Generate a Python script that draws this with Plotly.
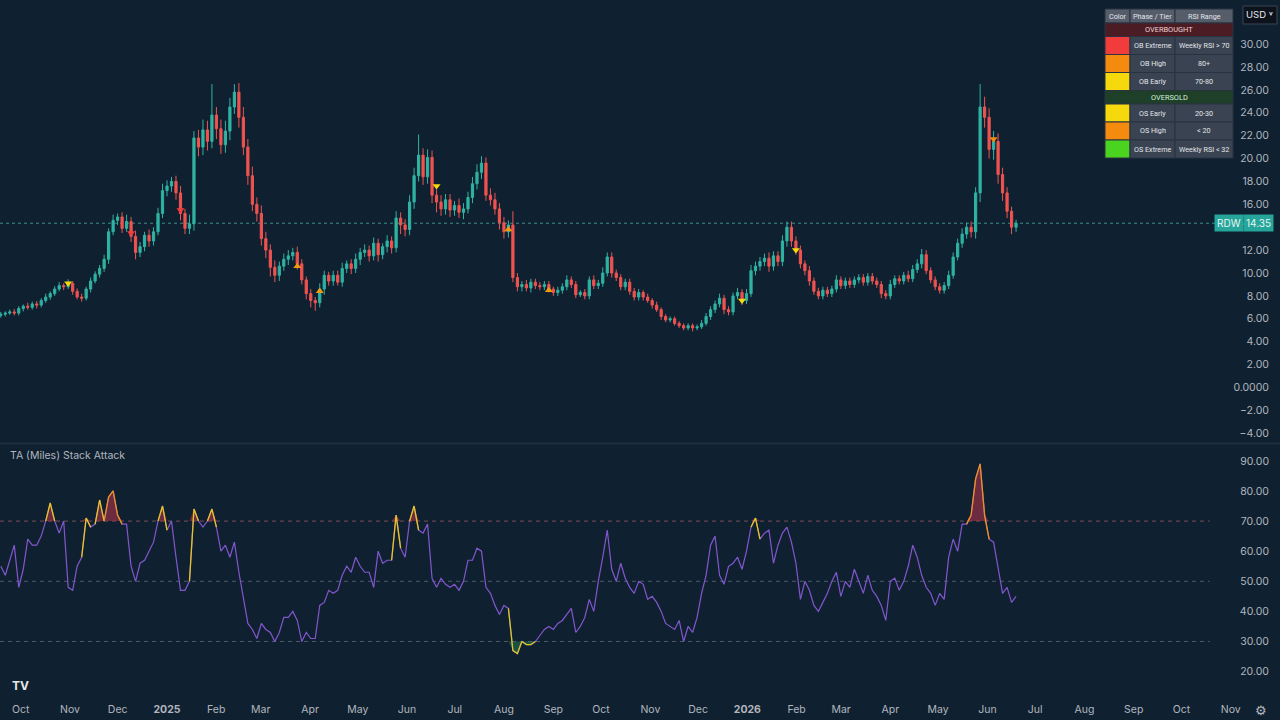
import numpy as np
import pandas as pd
import plotly.graph_objects as go
from plotly.subplots import make_subplots

# ---------------- data ----------------
start_date = "2024-09-18 12:00"
end_date = "2026-06-19"
first_open = 6.3

close = [
    6.4, 6.5, 6.6, 6.5, 6.9, 7.1, 7.0, 7.3, 7.2, 7.6,
    7.9, 8.2, 8.6, 8.9, 8.8, 9.1, 8.4, 7.9, 7.8, 8.6,
    9.3, 9.9, 10.4, 11.2, 13.6, 14.6, 14.9, 13.9, 14.5, 13.2,
    11.8, 12.3, 13.3, 12.8, 13.6, 15.2, 17.2, 17.6, 18.0, 17.0,
    15.2, 13.9, 14.3, 21.8, 21.0, 22.5, 21.5, 23.8, 22.6, 21.2,
    22.4, 24.5, 25.8, 23.6, 21.0, 18.5, 16.0, 15.2, 13.0, 12.0,
    10.5, 9.8, 10.6, 11.2, 11.5, 11.8, 10.8, 9.4, 8.2, 7.6,
    7.4, 8.6, 9.8, 9.3, 9.8, 9.2, 10.4, 10.8, 10.4, 11.2,
    11.8, 12.0, 11.5, 12.6, 11.6, 12.3, 12.8, 12.2, 14.8, 14.2,
    13.8, 16.2, 18.5, 20.3, 18.4, 20.1, 16.8, 16.2, 15.6, 16.4,
    15.5, 15.9, 15.3, 15.6, 16.6, 17.8, 18.8, 19.6, 16.8, 16.4,
    15.6, 14.4, 13.6, 14.2, 9.6, 8.8, 9.0, 8.7, 9.2, 8.9,
    8.8, 9.0, 8.6, 8.3, 8.5, 8.8, 9.4, 9.0, 8.1, 8.3,
    8.0, 9.4, 8.9, 9.1, 10.0, 11.4, 10.0, 9.6, 8.8, 9.2,
    8.4, 7.9, 8.3, 7.9, 7.6, 7.2, 6.8, 6.2, 5.9, 6.0,
    5.6, 5.4, 5.2, 5.4, 5.2, 5.3, 5.6, 6.2, 6.8, 7.3,
    7.8, 6.8, 6.6, 8.0, 8.3, 7.6, 8.2, 10.2, 10.6, 11.0,
    11.3, 10.6, 11.5, 11.0, 12.8, 14.0, 12.8, 12.0, 10.8, 10.2,
    9.3, 8.4, 8.0, 8.5, 8.2, 8.6, 9.4, 8.9, 9.3, 9.0,
    9.4, 9.6, 9.2, 9.7, 9.3, 9.0, 8.2, 8.0, 9.0, 9.5,
    9.3, 9.8, 9.5, 10.3, 10.8, 11.6, 10.2, 9.4, 8.8, 8.5,
    8.9, 9.8, 11.4, 12.6, 13.4, 14.0, 13.6, 17.0, 24.5, 23.6,
    20.8, 21.5, 18.6, 17.0, 15.4, 14.0, 14.35,
]

wick_up = [
    .2, .15, .2, .25, .2, .15, .3, .2, .25, .2,
    .3, .2, .25, .3, .2, .35, .2, .25, .3, .2,
    .3, .25, .3, .4, .3, .5, .3, .4, .6, .4,
    .5, .4, .3, .5, .4, .5, .6, .5, .4, .5,
    .6, .4, .8, .6, .7, .9, .8, 2.7, .7, .8,
    .9, .8, .7, .8, .9, .7, .8, .6, .7, .6,
    .5, .6, .4, .5, .5, .4, .5, .4, .3, .4,
    .3, .5, .4, .3, .4, .4, .5, .3, .4, .5,
    .4, .5, .4, .5, .4, .3, .5, .4, .6, .5,
    .5, .6, .7, 1.8, .6, .7, .6, .5, .6, .5,
    .5, .4, .6, .5, .5, .6, .7, .6, .5, .6,
    .6, .5, .5, .4, 1.2, .4, .3, .4, .3, .3,
    .3, .3, .3, .2, .3, .3, .4, .3, .3, .2,
    .3, .3, .4, .3, .5, .4, .4, .3, .3, .3,
    .3, .3, .3, .2, .3, .2, .3, .2, .2, .2,
    .2, .2, .2, .2, .2, .2, .3, .3, .3, .3,
    .4, .3, .3, .3, .4, .3, .4, .5, .4, .4,
    .4, .5, .4, .4, .5, .5, .5, .4, .4, .3,
    .4, .3, .3, .3, .3, .3, .4, .3, .3, .3,
    .3, .3, .3, .3, .3, .3, .3, .3, .4, .3,
    .3, .3, .4, .4, .4, .5, .4, .3, .3, .3,
    .3, .4, .4, .4, .5, .4, .5, .5, 2.0, .9,
    .8, .9, .7, .6, .5, .4, .3,
]

wick_dn = [
    .2, .2, .15, .2, .2, .25, .2, .2, .3, .2,
    .2, .25, .2, .2, .3, .2, .3, .2, .3, .2,
    .3, .2, .3, .3, .4, .3, .4, .4, .3, .5,
    .6, .4, .4, .5, .4, .3, .4, .5, .5, .6,
    .6, .5, .5, .6, .8, .7, .8, .6, .9, .8,
    .7, .8, .6, .9, .7, .8, .6, .7, .6, .7,
    .8, .6, .5, .4, .5, .4, .5, .4, .5, .6,
    .7, .4, .5, .4, .4, .3, .4, .4, .5, .4,
    .5, .4, .5, .4, .6, .4, .5, .5, .4, .8,
    .6, .5, .6, .5, .7, .6, .7, .9, .6, .5,
    .6, .5, .5, .6, .4, .5, .5, .6, .5, .5,
    .5, .6, .6, .5, .4, .4, .4, .3, .4, .3,
    .3, .3, .3, .3, .3, .3, .3, .3, .3, .2,
    .3, .3, .3, .3, .3, .3, .4, .3, .3, .3,
    .3, .3, .3, .3, .2, .3, .2, .3, .2, .2,
    .2, .2, .2, .2, .3, .2, .2, .2, .3, .3,
    .3, .4, .3, .3, .3, .4, .3, .3, .4, .4,
    .4, .5, .4, .4, .4, .5, .5, .4, .4, .4,
    .4, .3, .3, .3, .3, .3, .3, .3, .3, .3,
    .3, .3, .3, .3, .3, .3, .4, .3, .3, .3,
    .3, .3, .3, .3, .3, .4, .3, .3, .3, .3,
    .3, .3, .3, .3, .4, .4, .5, .6, .8, .9,
    .8, .9, .8, .7, .6, .6, .4,
]

rsi = [
    55, 52, 57, 62, 48, 54, 64, 62, 62, 65,
    70, 76, 70, 66, 70, 48, 47, 55, 58, 71,
    68, 69, 77, 70, 78, 80, 72, 69, 69, 55,
    50, 56, 57, 60, 63, 70, 75, 67, 70, 58,
    47, 47, 50, 74, 70, 68, 70, 74, 68, 60,
    62, 58, 63, 53, 45, 36, 34, 31, 36, 34,
    33, 30, 33, 38, 38, 40, 37, 30, 33, 31,
    31, 42, 43, 47, 46, 47, 52, 55, 53, 58,
    55, 53, 53, 48, 60, 56, 57, 57, 72, 61,
    58, 70, 75, 67, 66, 69, 51, 48, 51, 49,
    48, 49, 47, 50, 57, 57, 61, 60, 48, 46,
    42, 39, 42, 41, 27, 26, 30, 29, 29, 30,
    32, 34, 35, 34, 36, 37, 39, 41, 33, 35,
    38, 44, 40, 50, 58, 67, 54, 50, 56, 51,
    48, 46, 50, 49, 44, 45, 43, 40, 36, 35,
    34, 37, 30, 35, 33, 38, 46, 52, 62, 65,
    52, 49, 55, 56, 58, 54, 60, 68, 71, 64,
    66, 67, 56, 62, 66, 68, 63, 56, 44, 50,
    47, 42, 40, 43, 46, 50, 53, 45, 50, 48,
    54, 50, 46, 52, 47, 45, 42, 37, 50, 51,
    47, 50, 55, 62, 58, 52, 48, 46, 42, 46,
    44, 58, 64, 60, 69, 69, 72, 84, 89, 72,
    64, 63, 54, 46, 48, 43, 45,
]

# signal markers: candle index, price level, tier
sig_idx = [15, 29, 40, 66, 71, 97, 113, 122, 165, 177, 221]
sig_price = [9.1, 13.5, 15.5, 10.6, 8.4, 17.6, 13.8, 8.5, 7.6, 12.0, 21.7]
sig_kind = ["OB Early", "OB Extreme", "OB Extreme", "OS High", "OS High", "OB Early",
            "OS High", "OS High", "OB Early", "OB Early", "OB High"]

rsi_levels = [70, 50, 30]
price_ticks = [-4, -2, 0, 2, 4, 6, 8, 10, 12, 14, 16, 18, 20, 22, 24, 26, 28, 30]
price_tick_text = ["−4.00", "−2.00", "0.0000", "2.00", "4.00", "6.00", "8.00", "10.00", "12.00",
                   "14.00", "16.00", "18.00", "20.00", "22.00", "24.00", "26.00", "28.00", "30.00"]
rsi_ticks = [20, 30, 40, 50, 60, 70, 80, 90]
rsi_tick_text = ["20.00", "30.00", "40.00", "50.00", "60.00", "70.00", "80.00", "90.00"]

month_ticks = ["2024-10-01", "2024-11-01", "2024-12-01", "2025-01-01", "2025-02-01", "2025-03-01",
               "2025-04-01", "2025-05-01", "2025-06-01", "2025-07-01", "2025-08-01", "2025-09-01",
               "2025-10-01", "2025-11-01", "2025-12-01", "2026-01-01", "2026-02-01", "2026-03-01",
               "2026-04-01", "2026-05-01", "2026-06-01", "2026-07-01", "2026-08-01", "2026-09-01",
               "2026-10-01", "2026-11-01"]
month_labels = ["Oct", "Nov", "Dec", "<b>2025</b>", "Feb", "Mar", "Apr", "May", "Jun", "Jul", "Aug",
                "Sep", "Oct", "Nov", "Dec", "<b>2026</b>", "Feb", "Mar", "Apr", "May", "Jun", "Jul",
                "Aug", "Sep", "Oct", "Nov"]

table_ob = [("OB Extreme", "Weekly RSI > 70", "#f23b3b"),
            ("OB High", "80+", "#f58b0e"),
            ("OB Early", "70-80", "#f5d90c")]
table_os = [("OS Early", "20-30", "#f5d90c"),
            ("OS High", "< 20", "#f58b0e"),
            ("OS Extreme", "Weekly RSI < 32", "#4bd41f")]

ticker = "RDW"

assert len(close) == len(wick_up) == len(wick_dn) == len(rsi)

# ---------------- derived ----------------
n = len(close)
dates = pd.date_range(start_date, end_date, periods=n)
opens = [first_open] + close[:-1]
highs = [max(o, c) + w for o, c, w in zip(opens, close, wick_up)]
lows = [min(o, c) - w for o, c, w in zip(opens, close, wick_dn)]

BG = "#0f2130"
UP = "#2fb3a3"
DN = "#ef5350"
TXT = "#b2b5be"
PURPLE = "#8356cf"
tier_color = {"OB Extreme": "#f23b3b", "OB High": "#f58b0e", "OB Early": "#f5d90c",
              "OS Early": "#f5d90c", "OS High": "#f09a12", "OS Extreme": "#4bd41f"}

fig = make_subplots(rows=2, cols=1, shared_xaxes=True, vertical_spacing=0.002)

fig.add_trace(go.Candlestick(
    x=dates, open=opens, high=highs, low=lows, close=close,
    increasing=dict(line=dict(color=UP, width=1), fillcolor=UP),
    decreasing=dict(line=dict(color=DN, width=1), fillcolor=DN),
    whiskerwidth=0, showlegend=False, hoverinfo="skip"), row=1, col=1)

# signal triangles
sx = [dates[i] for i in sig_idx]
sym = ["triangle-down" if k.startswith("OB") else "triangle-up" for k in sig_kind]
scol = [tier_color[k] for k in sig_kind]
fig.add_trace(go.Scatter(x=sx, y=sig_price, mode="markers",
                         marker=dict(symbol=sym, color=scol, size=7,
                                     line=dict(width=0)),
                         showlegend=False, hoverinfo="skip"), row=1, col=1)

# RSI pane
r = np.array(rsi, dtype=float)
ob_level, mid_level, os_level = rsi_levels
fig.add_trace(go.Scatter(x=dates, y=np.full(n, ob_level), mode="lines",
                         line=dict(width=0, color="rgba(0,0,0,0)"),
                         showlegend=False, hoverinfo="skip"), row=2, col=1)
fig.add_trace(go.Scatter(x=dates, y=np.maximum(r, ob_level), mode="lines", fill="tonexty",
                         fillcolor="rgba(170,50,72,0.6)",
                         line=dict(width=0, color="rgba(0,0,0,0)"),
                         showlegend=False, hoverinfo="skip"), row=2, col=1)
fig.add_trace(go.Scatter(x=dates, y=np.full(n, os_level), mode="lines",
                         line=dict(width=0, color="rgba(0,0,0,0)"),
                         showlegend=False, hoverinfo="skip"), row=2, col=1)
fig.add_trace(go.Scatter(x=dates, y=np.minimum(r, os_level), mode="lines", fill="tonexty",
                         fillcolor="rgba(40,140,90,0.45)",
                         line=dict(width=0, color="rgba(0,0,0,0)"),
                         showlegend=False, hoverinfo="skip"), row=2, col=1)

fig.add_trace(go.Scatter(x=dates, y=r, mode="lines", line=dict(color=PURPLE, width=1.2),
                         showlegend=False, hoverinfo="skip"), row=2, col=1)


def runs(mask):
    out, i = [], 0
    while i < len(mask):
        if mask[i]:
            j = i
            while j + 1 < len(mask) and mask[j + 1]:
                j += 1
            out.append((i, j))
            i = j + 1
        else:
            i += 1
    return out


above = r > ob_level
below = r < os_level
for m, lvl, kind in ((above, ob_level, "ob"), (below, os_level, "os")):
    for a, b in runs(m):
        lo, hi = max(a - 1, 0), min(b + 1, n - 1)
        seg = r[lo:hi + 1]
        if kind == "ob":
            col = "#f0901a" if seg.max() >= 78 else "#e8c51c"
        else:
            col = "#d6c61c"
        fig.add_trace(go.Scatter(x=dates[lo:hi + 1], y=seg, mode="lines",
                                 line=dict(color=col, width=1.3),
                                 showlegend=False, hoverinfo="skip"), row=2, col=1)

# ---------------- layout ----------------
PH = 690.0


def pxx(x):
    return x / 1280.0


def pyy(y):
    return (PH - y) / PH


shapes = []
annots = []

# pane separator
shapes.append(dict(type="line", xref="paper", yref="paper", x0=0, x1=1,
                   y0=pyy(443.5), y1=pyy(443.5), line=dict(color="#1f2e3b", width=2), layer="above"))

# RSI levels
lvl_colors = {ob_level: "#7d4d5c", mid_level: "#4d5c68", os_level: "#4d5c68"}
for lv in rsi_levels:
    shapes.append(dict(type="line", xref="x2 domain", yref="y2", x0=0, x1=0.945, y0=lv, y1=lv,
                       line=dict(color=lvl_colors[lv], width=1, dash="4px,4px"), layer="below"))

# last price line
last = close[-1]
shapes.append(dict(type="line", xref="x domain", yref="y", x0=0, x1=0.95, y0=last, y1=last,
                   line=dict(color="#3a8f86", width=1, dash="dot"), layer="below"))
annots.append(dict(x=pxx(1229), y=last, xref="paper", yref="y", text=ticker, showarrow=False,
                   font=dict(size=10, color="#e8f5f3"), bgcolor="#26a69a", borderpad=2,
                   xanchor="center", yanchor="middle"))
annots.append(dict(x=pxx(1258), y=last, xref="paper", yref="y", text=f"{last:.2f}", showarrow=False,
                   font=dict(size=10, color="#e8f5f3"), bgcolor="#26a69a", borderpad=2,
                   xanchor="center", yanchor="middle"))

# indicator title
annots.append(dict(x=pxx(8), y=pyy(455), xref="paper", yref="paper", text="TA (Miles) Stack Attack",
                   showarrow=False, font=dict(size=10.5, color=TXT), xanchor="left", yanchor="middle"))

# logo & gear
annots.append(dict(x=pxx(20), y=pyy(685), xref="paper", yref="paper", text="<b>TV</b>",
                   showarrow=False, font=dict(size=12, color="#e8e8e8"), xanchor="center", yanchor="middle"))
annots.append(dict(x=pxx(1261), y=pyy(710), xref="paper", yref="paper", text="⚙",
                   showarrow=False, font=dict(size=13, color=TXT), xanchor="center", yanchor="middle"))

# USD button
shapes.append(dict(type="rect", xref="paper", yref="paper", x0=pxx(1243), x1=pxx(1277),
                   y0=pyy(24), y1=pyy(6), fillcolor="#0c131c", line=dict(color="#3a4452", width=1),
                   layer="above"))
annots.append(dict(x=pxx(1259), y=pyy(15), xref="paper", yref="paper", text="USD ˅",
                   showarrow=False, font=dict(size=9.5, color="#e6e8ee"), xanchor="center", yanchor="middle"))

# legend table
cx = [1105, 1130, 1175, 1233]
CELL = "#3a4351"
HEAD = "#565d6a"
GRID = "#283240"
TFAM = "Roboto, sans-serif"
TF = dict(size=7.2, color="#e3e6ec", family=TFAM)


def rect(x0, x1, y0, y1, fill):
    shapes.append(dict(type="rect", xref="paper", yref="paper", x0=pxx(x0), x1=pxx(x1),
                       y0=pyy(y1), y1=pyy(y0), fillcolor=fill, line=dict(color=GRID, width=1),
                       layer="above"))


def text(x, y, t, font=TF):
    annots.append(dict(x=pxx(x), y=pyy(y), xref="paper", yref="paper", text=t, showarrow=False,
                       font=font, xanchor="center", yanchor="middle"))


# header
for (a, b), t in zip(zip(cx[:-1], cx[1:]), ["Color", "Phase / Tier", "RSI Range"]):
    rect(a, b, 9, 23, HEAD)
    text((a + b) / 2, 16, t)

y = 23
for title, rows, tbg, tcol in (("OVERBOUGHT", table_ob, "#4b1c24", "#f0d4d4"),
                               ("OVERSOLD", table_os, "#1e4028", "#d4f0d8")):
    rect(cx[0], cx[-1], y, y + 13.5, tbg)
    text((cx[0] + cx[-1]) / 2, y + 7, title, dict(size=7.4, color=tcol, family=TFAM))
    y += 13.5
    for name, rng, col in rows:
        rect(cx[0], cx[1], y, y + 18, col)
        rect(cx[1], cx[2], y, y + 18, CELL)
        rect(cx[2], cx[3], y, y + 18, CELL)
        text((cx[1] + cx[2]) / 2, y + 9, name)
        text((cx[2] + cx[3]) / 2, y + 9, rng)
        y += 18

fig.update_layout(
    width=1280, height=720,
    margin=dict(l=0, r=0, t=0, b=30),
    paper_bgcolor=BG, plot_bgcolor=BG,
    font=dict(family="Inter, Roboto, sans-serif", color=TXT, size=11),
    showlegend=False,
    shapes=shapes, annotations=annots,
    hovermode=False,
)
xr = ["2024-09-18", "2026-12-02"]
fig.update_xaxes(range=xr, showgrid=False, zeroline=False, showline=False,
                 rangeslider=dict(visible=False))
fig.update_xaxes(tickvals=month_ticks, ticktext=month_labels, ticks="outside", ticklen=9,
                 tickcolor="rgba(0,0,0,0)", tickfont=dict(size=10.5, color=TXT), row=2, col=1)
fig.update_layout(
    yaxis=dict(domain=[(PH - 443) / PH, 1], range=[-4.85, 33.85], side="right",
               tickvals=price_ticks, ticktext=price_tick_text, ticklabelposition="inside",
               ticklabelstandoff=8, showgrid=False, zeroline=False, showline=False,
               tickfont=dict(size=10.5, color=TXT)),
    yaxis2=dict(domain=[0, (PH - 444) / PH], range=[13.9, 95.6], side="right",
                tickvals=rsi_ticks, ticktext=rsi_tick_text, ticklabelposition="inside",
                ticklabelstandoff=8, showgrid=False, zeroline=False, showline=False,
                tickfont=dict(size=10.5, color=TXT)),
)

fig.write_html("out.html")
